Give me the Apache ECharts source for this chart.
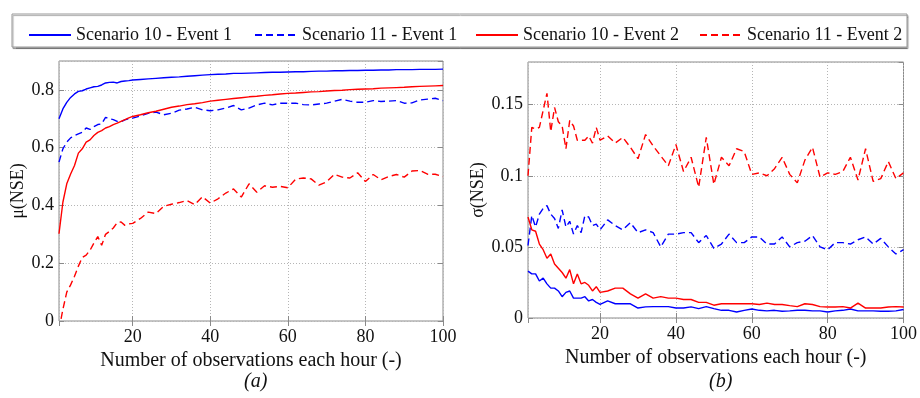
<!DOCTYPE html>
<html>
<head>
<meta charset="utf-8">
<script src="https://cdn.jsdelivr.net/npm/echarts@6/dist/echarts.min.js"></script>
<style>
  html, body { margin: 0; padding: 0; background: #fff; }
  #chart { width: 920px; height: 398px; }
</style>
</head>
<body>
<div id="chart"></div>
<script>
// Observation counts per hour (dense up to 20, then every 2)
const obsCounts = [1,2,3,4,5,6,7,8,9,10,11,12,13,14,15,16,17,18,19,20,
  22,24,26,28,30,32,34,36,38,40,42,44,46,48,50,52,54,56,58,60,
  62,64,66,68,70,72,74,76,78,80,82,84,86,88,90,92,94,96,98,100];

// Mean NSE, panel (a)
const meanS10E1 = [0.700,0.734,0.757,0.774,0.786,0.795,0.797,0.803,0.807,0.811,0.812,0.817,0.824,0.826,0.827,0.824,0.829,0.831,0.832,0.834,
  0.836,0.838,0.840,0.842,0.844,0.845,0.847,0.849,0.851,0.853,0.854,0.855,0.857,0.857,0.858,0.859,0.860,0.861,0.861,0.862,
  0.863,0.863,0.864,0.865,0.865,0.866,0.866,0.867,0.867,0.868,0.868,0.869,0.869,0.870,0.870,0.870,0.871,0.871,0.871,0.872];
const meanS11E1 = [0.550,0.596,0.619,0.634,0.642,0.648,0.653,0.668,0.663,0.673,0.680,0.682,0.705,0.700,0.697,0.691,0.690,0.696,0.700,0.702,
  0.710,0.719,0.723,0.714,0.719,0.730,0.734,0.740,0.731,0.728,0.731,0.737,0.746,0.731,0.737,0.748,0.754,0.748,0.754,0.754,
  0.754,0.749,0.748,0.751,0.754,0.761,0.767,0.761,0.757,0.757,0.763,0.760,0.761,0.763,0.754,0.755,0.765,0.768,0.771,0.763];
const meanS10E2 = [0.302,0.411,0.475,0.509,0.538,0.581,0.596,0.619,0.627,0.642,0.653,0.659,0.668,0.673,0.680,0.685,0.691,0.697,0.703,0.708,
  0.714,0.721,0.726,0.733,0.740,0.744,0.749,0.752,0.756,0.761,0.764,0.767,0.770,0.773,0.776,0.778,0.781,0.783,0.786,0.788,
  0.789,0.791,0.793,0.794,0.796,0.798,0.799,0.801,0.802,0.803,0.804,0.806,0.807,0.808,0.809,0.811,0.812,0.813,0.814,0.815];
const meanS11E2 = [-0.030,0.040,0.100,0.125,0.155,0.190,0.220,0.228,0.245,0.270,0.292,0.262,0.300,0.310,0.322,0.340,0.343,0.331,0.336,0.338,
  0.355,0.377,0.372,0.397,0.404,0.410,0.417,0.403,0.430,0.408,0.423,0.443,0.457,0.429,0.475,0.446,0.468,0.463,0.466,0.461,
  0.491,0.495,0.492,0.470,0.482,0.508,0.498,0.495,0.513,0.483,0.507,0.489,0.500,0.507,0.498,0.519,0.521,0.508,0.508,0.500];

// Standard deviation of NSE, panel (b)
const sdS10E1 = [0.033,0.031,0.031,0.026,0.028,0.024,0.021,0.021,0.019,0.015,0.018,0.019,0.014,0.014,0.014,0.015,0.012,0.013,0.011,0.0096,
  0.012,0.010,0.010,0.010,0.007,0.0078,0.008,0.008,0.008,0.007,0.007,0.0078,0.0066,0.008,0.0066,0.0054,0.0054,0.0042,0.0054,0.0063,
  0.0054,0.005,0.0054,0.0047,0.005,0.0054,0.0054,0.005,0.005,0.0042,0.005,0.0054,0.0063,0.005,0.005,0.005,0.0047,0.0047,0.005,0.006];
const sdS11E1 = [0.051,0.072,0.064,0.073,0.077,0.079,0.073,0.070,0.063,0.076,0.064,0.068,0.059,0.065,0.060,0.072,0.071,0.065,0.066,0.062,
  0.069,0.065,0.062,0.067,0.060,0.062,0.060,0.050,0.059,0.059,0.060,0.060,0.053,0.058,0.049,0.052,0.059,0.053,0.053,0.057,
  0.057,0.052,0.052,0.057,0.050,0.053,0.054,0.058,0.050,0.048,0.053,0.053,0.052,0.055,0.057,0.052,0.056,0.050,0.045,0.048];
const sdS10E2 = [0.071,0.062,0.061,0.052,0.048,0.042,0.045,0.038,0.035,0.032,0.028,0.034,0.024,0.031,0.024,0.025,0.023,0.019,0.022,0.018,
  0.019,0.021,0.021,0.017,0.014,0.017,0.014,0.015,0.014,0.014,0.013,0.013,0.011,0.011,0.009,0.010,0.010,0.010,0.010,0.010,
  0.0095,0.0105,0.0095,0.0095,0.0087,0.008,0.010,0.0095,0.008,0.0077,0.0077,0.008,0.007,0.0105,0.007,0.007,0.007,0.0077,0.008,0.0077];
const sdS11E2 = [0.100,0.134,0.133,0.134,0.146,0.158,0.131,0.148,0.138,0.135,0.119,0.139,0.135,0.125,0.125,0.125,0.128,0.123,0.134,0.125,
  0.128,0.123,0.127,0.120,0.112,0.129,0.121,0.114,0.107,0.122,0.103,0.113,0.092,0.127,0.094,0.113,0.107,0.119,0.117,0.101,
  0.102,0.100,0.105,0.113,0.101,0.095,0.111,0.120,0.099,0.102,0.101,0.103,0.113,0.097,0.119,0.096,0.098,0.110,0.098,0.102];

const seriesNames = ['Scenario 10 - Event 1', 'Scenario 11 - Event 1', 'Scenario 10 - Event 2', 'Scenario 11 - Event 2'];
const xTitle = 'Number of observations each hour (-)';

const FONT = 'Liberation Serif';
const FRAME = '#8a8a8a';
const BLUE = '#0000ff';
const RED = '#ff0000';
const DASH = [7, 4];

function pairs(values) {
  return obsCounts.map((x, i) => [x, values[i]]);
}

function line(name, values, color, dashed, axisIndex) {
  return {
    type: 'line', name: name, data: pairs(values),
    xAxisIndex: axisIndex, yAxisIndex: axisIndex,
    showSymbol: false, symbol: 'none', clip: true, animation: false,
    lineStyle: { color: color, width: 1.4, type: dashed ? DASH : 'solid' },
    itemStyle: { color: color }
  };
}

const tickLabel = { fontFamily: FONT, fontSize: 18, color: '#111' };
const gridLine = { show: true, lineStyle: { color: '#b5b5b5', type: [1, 2], width: 1 } };

function bottomX(gridIndex) {
  return {
    type: 'value', gridIndex: gridIndex, min: 1, max: 100, splitNumber: 5,
    position: 'bottom',
    axisLine: { show: false },
    axisTick: { show: true, inside: true, length: 5, lineStyle: { color: FRAME } },
    axisLabel: Object.assign({ margin: 7, showMinLabel: false }, tickLabel),
    splitLine: gridLine,
    name: xTitle, nameLocation: 'middle', nameGap: 23,
    nameTextStyle: { fontFamily: FONT, fontSize: 20, color: '#111' }
  };
}
function topX(gridIndex) {
  return {
    type: 'value', gridIndex: gridIndex, min: 1, max: 100, splitNumber: 5,
    position: 'top',
    axisLine: { show: false },
    axisTick: { show: true, inside: true, length: 5, lineStyle: { color: FRAME } },
    axisLabel: { show: false }, splitLine: { show: false }
  };
}
function leftY(gridIndex, max, interval, name, gap) {
  return {
    type: 'value', gridIndex: gridIndex, min: 0, max: max, interval: interval,
    position: 'left',
    axisLine: { show: false },
    axisTick: { show: true, inside: true, length: 5, lineStyle: { color: FRAME } },
    axisLabel: Object.assign({ margin: 5, showMaxLabel: false }, tickLabel),
    splitLine: gridLine,
    name: name, nameLocation: 'middle', nameRotate: 90, nameGap: gap,
    nameTextStyle: { fontFamily: FONT, fontSize: 18, color: '#111' }
  };
}
function rightY(gridIndex, max, interval) {
  return {
    type: 'value', gridIndex: gridIndex, min: 0, max: max, interval: interval,
    position: 'right',
    axisLine: { show: false },
    axisTick: { show: true, inside: true, length: 5, lineStyle: { color: FRAME } },
    axisLabel: { show: false }, splitLine: { show: false }
  };
}

// One legend per entry, so each entry sits at its own spot in the shared box
const legendLefts = [23, 249, 470, 694];
const legends = seriesNames.map((name, i) => ({
  data: [name],
  left: legendLefts[i], top: 21,
  itemWidth: 42, itemHeight: 14,
  itemStyle: { opacity: 0 },
  textStyle: { fontFamily: FONT, fontSize: 18, color: '#111' },
  selectedMode: false
}));

const chart = echarts.init(document.getElementById('chart'), null, { renderer: 'canvas' });

chart.setOption({
  animation: false,
  backgroundColor: '#ffffff',
  grid: [
    { left: 59, top: 61, width: 384, height: 260, show: true, borderColor: FRAME, borderWidth: 1, backgroundColor: 'transparent' },
    { left: 528, top: 62, width: 377, height: 256, show: true, borderColor: FRAME, borderWidth: 1, backgroundColor: 'transparent' }
  ],
  xAxis: [bottomX(0), bottomX(1), topX(0), topX(1)],
  yAxis: [
    leftY(0, 0.9, 0.2, 'μ(NSE)', 32),
    leftY(1, 0.18, 0.05, 'σ(NSE)', 35),
    rightY(0, 0.9, 0.2),
    rightY(1, 0.18, 0.05)
  ],
  legend: legends,
  graphic: [
    {
      type: 'rect', z: -1, silent: true,
      shape: { x: 12, y: 14, width: 895, height: 33 },
      style: { fill: '#fff', stroke: '#999', lineWidth: 1, shadowColor: 'rgba(0,0,0,0.35)', shadowOffsetX: 1, shadowOffsetY: 1.5, shadowBlur: 1 }
    },
    { type: 'text', left: 244, top: 372, style: { text: '(a)', font: 'italic 20px "Liberation Serif"', fill: '#111' } },
    { type: 'text', left: 709, top: 372, style: { text: '(b)', font: 'italic 20px "Liberation Serif"', fill: '#111' } }
  ],
  series: [
    line(seriesNames[0], meanS10E1, BLUE, false, 0),
    line(seriesNames[1], meanS11E1, BLUE, true, 0),
    line(seriesNames[2], meanS10E2, RED, false, 0),
    line(seriesNames[3], meanS11E2, RED, true, 0),
    line(seriesNames[0], sdS10E1, BLUE, false, 1),
    line(seriesNames[1], sdS11E1, BLUE, true, 1),
    line(seriesNames[2], sdS10E2, RED, false, 1),
    line(seriesNames[3], sdS11E2, RED, true, 1)
  ]
});
</script>
</body>
</html>
